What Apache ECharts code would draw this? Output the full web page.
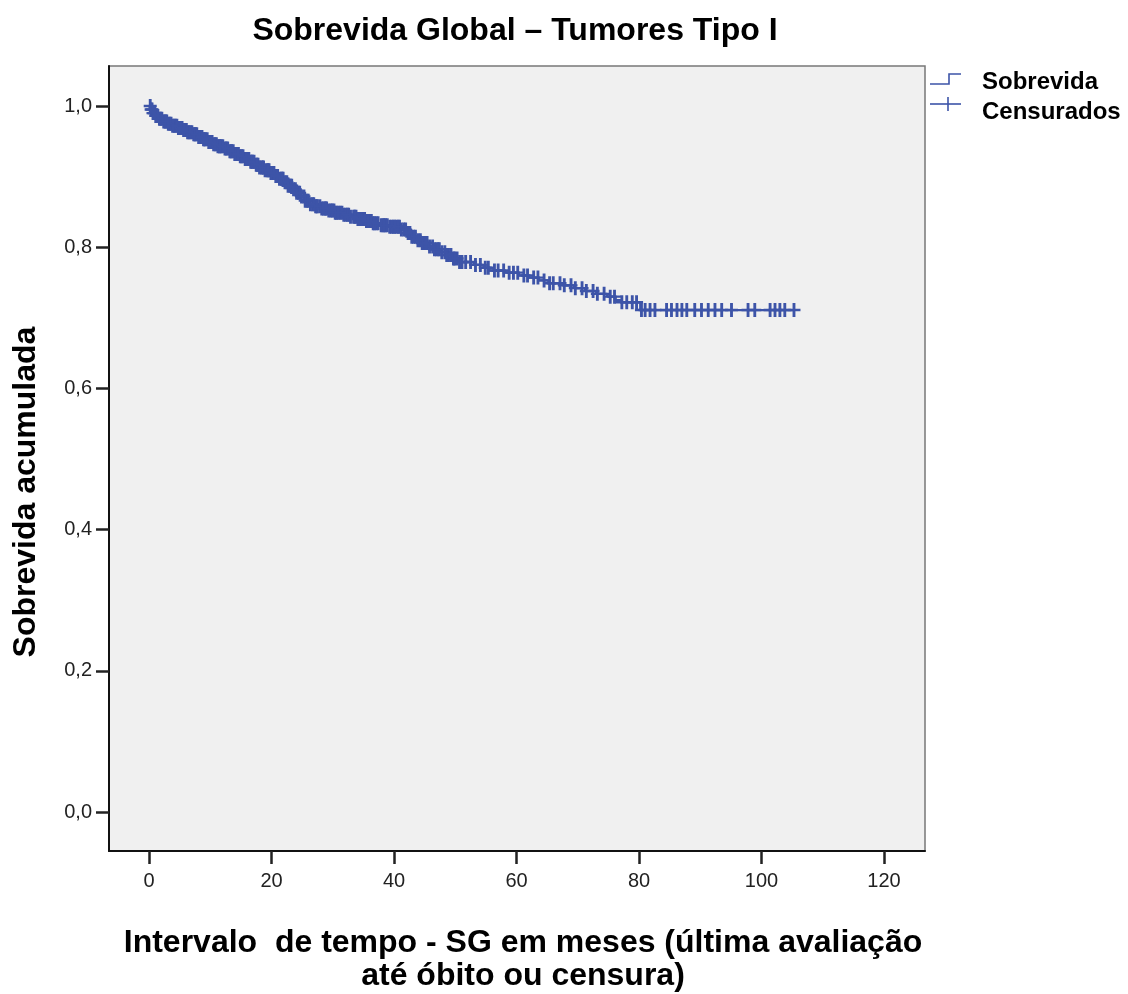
<!DOCTYPE html>
<html>
<head>
<meta charset="utf-8">
<script src="https://cdn.jsdelivr.net/npm/echarts@6/dist/echarts.min.js"></script>
<style>
  html, body { margin: 0; padding: 0; background: #fff; }
  #chart { width: 1128px; height: 994px; }
</style>
</head>
<body>
<div id="chart"></div>
<script>
// Kaplan-Meier steps: time of event (months) and survival after it
const eventTimes = [0, 0.3, 0.6, 1.0, 1.5, 2.2, 3.0, 3.8, 4.6, 5.5, 6.3, 7.1, 7.9, 8.7, 9.6, 10.4, 11.2, 12.1,
  13.0, 13.8, 14.7, 15.5, 16.4, 17.2, 18.0, 18.9, 19.7, 20.5, 21.3, 22.0, 22.7, 23.4, 24.1, 24.8, 25.5,
  26.2, 27.0, 28.0, 29.2, 30.4, 31.6, 32.8, 34.0, 35.3, 36.5, 37.7, 39.0, 41.2, 42.0, 42.8, 43.7, 44.6,
  45.6, 46.6, 47.6, 48.6, 49.6, 50.5, 53.0, 54.6, 55.6, 58.2, 60.4, 62.0, 63.6, 65.2, 67.5, 69.4, 71.2,
  73.0, 74.8, 76.2, 77.0, 80.2];
const survival = [1.000, 0.995, 0.990, 0.986, 0.982, 0.978, 0.975, 0.972, 0.969, 0.966, 0.963, 0.960, 0.956,
  0.953, 0.949, 0.946, 0.943, 0.940, 0.936, 0.932, 0.929, 0.925, 0.921, 0.917, 0.913, 0.909, 0.905, 0.901,
  0.897, 0.892, 0.887, 0.882, 0.877, 0.872, 0.866, 0.861, 0.858, 0.855, 0.852, 0.849, 0.846, 0.843, 0.840,
  0.837, 0.834, 0.831, 0.829, 0.825, 0.820, 0.815, 0.810, 0.806, 0.801, 0.797, 0.793, 0.789, 0.784, 0.779,
  0.775, 0.771, 0.767, 0.764, 0.760, 0.757, 0.753, 0.749, 0.746, 0.742, 0.738, 0.734, 0.730, 0.725, 0.722,
  0.711];
const lastFollowUp = 105.3;

// censored observations (months)
const censoredTimes = [0.2, 0.5, 0.8, 1.1, 1.3, 1.7, 1.9, 2.4, 2.6, 2.9, 3.4, 3.6, 4.1, 4.3, 4.8, 5.0, 5.4, 5.9,
  6.1, 6.5, 7.0, 7.3, 7.6, 8.1, 8.4, 8.9, 9.2, 9.5, 10.0, 10.3, 10.8, 11.0, 11.5, 11.8, 12.4, 12.6, 13.2,
  13.5, 14.0, 14.3, 14.9, 15.1, 15.7, 16.0, 16.6, 16.9, 17.5, 17.8, 18.4, 18.7, 19.3, 19.6, 20.2, 20.7, 21.0,
  21.6, 21.9, 22.5, 23.0, 23.3, 23.9, 24.4, 24.6, 25.3, 25.8, 26.0, 26.7, 27.2, 27.5, 28.2, 28.7, 29.0, 29.7,
  30.2, 30.6, 31.2, 31.8, 32.1, 32.6, 33.4, 33.8, 34.4, 35.0, 35.5, 35.9, 36.6, 37.1, 37.4, 38.2, 38.6, 39.3,
  39.9, 40.4, 40.9, 41.6, 42.3, 42.9, 43.5, 44.3, 44.9, 45.4, 46.3, 46.9, 47.4, 48.3, 48.9, 49.7, 50.3, 51.1,
  51.7, 52.5, 53.3, 54.1, 54.9, 55.4, 56.4, 57.0, 57.9, 58.8, 59.5, 60.2, 61.2, 61.8, 62.8, 63.5, 64.5, 65.4,
  66.0, 67.1, 67.8, 68.9, 69.6, 70.7, 71.4, 72.5, 73.2, 74.3, 75.3, 76.0, 77.2, 78.0, 78.9, 79.6,
  80.4, 81.0, 81.8, 82.6, 84.5, 85.3, 86.2, 87.0, 87.8, 89.1, 90.2, 91.3, 92.4, 93.5, 95.1, 97.8, 98.9,
  101.4, 102.2, 103.0, 103.8, 105.3];
const censoredTimesEarly = [0.35, 0.65, 0.95, 1.45, 2.1, 2.75, 3.15, 3.85, 4.55, 5.2, 5.65, 6.3, 6.75, 7.45,
  7.8, 8.25, 8.65, 9.05, 9.75, 10.15, 10.55, 11.25, 11.6, 12.05, 12.85, 13.35, 13.75, 14.15, 14.6, 15.35,
  15.85, 16.3, 16.75, 17.15, 17.65, 18.05, 18.55, 18.95, 19.45, 19.9, 20.4, 20.85, 21.3, 21.75, 22.2, 22.7,
  23.15, 23.6, 24.1, 24.9, 25.5, 26.35, 26.9, 27.35, 27.9, 28.45, 28.85, 29.35, 29.9, 30.4, 30.9, 31.5,
  32.4, 32.9, 33.6, 34.1, 34.7, 35.2, 35.7, 36.3, 36.8, 37.9, 38.4, 38.9, 39.6, 40.1, 40.7, 41.2, 41.9,
  42.6, 43.2, 43.9, 44.6, 45.2, 45.8, 46.6, 47.2, 47.8, 48.6, 49.3, 49.9, 50.7];

const xTicks = [0, 20, 40, 60, 80, 100, 120];
const yTicks = [0, 0.2, 0.4, 0.6, 0.8, 1.0];

const BLUE = '#3d54a8';
const FONT = '"Liberation Sans", Arial, sans-serif';

function survivalAt(t) {
  let s = 1;
  for (let i = 0; i < eventTimes.length; i++) {
    if (eventTimes[i] <= t) s = survival[i];
  }
  return s;
}

const stepData = eventTimes.map((t, i) => [t, survival[i]]);
stepData.push([lastFollowUp, survival[survival.length - 1]]);
const censorData = censoredTimes.concat(censoredTimesEarly).map(t => [t, survivalAt(t)]);

const plusIcon = 'path://M0,8.3 H20 V11.7 H0 Z M7.8,0 H12.2 V20 H7.8 Z';

const chart = echarts.init(document.getElementById('chart'));
chart.setOption({
  animation: false,
  backgroundColor: '#fff',
  grid: {
    left: 109, top: 66, width: 816, height: 785,
    show: true, backgroundColor: '#f0f0f0', borderColor: '#777', borderWidth: 1.5
  },
  xAxis: {
    type: 'value', min: -6.53, max: 126.69,
    splitLine: { show: false },
    axisLine: { show: true, onZero: false, lineStyle: { color: '#111', width: 2 } },
    axisTick: { show: true, customValues: xTicks, length: 13, lineStyle: { color: '#222', width: 2.5 } },
    axisLabel: { customValues: xTicks, margin: 20, fontSize: 20, color: '#222', fontFamily: FONT }
  },
  yAxis: {
    type: 'value', min: -0.0552, max: 1.0567,
    splitLine: { show: false },
    axisLine: { show: true, onZero: false, lineStyle: { color: '#111', width: 2 } },
    axisTick: { show: true, customValues: yTicks, length: 13, lineStyle: { color: '#222', width: 2.5 } },
    axisLabel: {
      customValues: yTicks, margin: 17, fontSize: 20, color: '#222', fontFamily: FONT,
      formatter: v => v.toFixed(1).replace('.', ',')
    }
  },
  series: [
    {
      name: 'Sobrevida', type: 'line', step: 'end', data: stepData,
      showSymbol: false, lineStyle: { color: BLUE, width: 2.2 }
    },
    {
      name: 'Censurados', type: 'scatter', data: censorData,
      symbol: plusIcon, symbolSize: [13, 14], itemStyle: { color: BLUE, opacity: 1 }
    }
  ],
  graphic: [
    { type: 'text', x: 515, y: 31, style: { text: 'Sobrevida Global – Tumores Tipo I', font: 'bold 32px ' + FONT, fill: '#000', align: 'center', verticalAlign: 'middle' } },
    { type: 'text', x: 26, y: 492, rotation: Math.PI / 2, style: { text: 'Sobrevida acumulada', font: 'bold 32px ' + FONT, fill: '#000', align: 'center', verticalAlign: 'middle' } },
    { type: 'text', x: 523, y: 943, style: { text: 'Intervalo  de tempo - SG em meses (última avaliação', font: 'bold 32px ' + FONT, fill: '#000', align: 'center', verticalAlign: 'middle' } },
    { type: 'text', x: 523, y: 976, style: { text: 'até óbito ou censura)', font: 'bold 32px ' + FONT, fill: '#000', align: 'center', verticalAlign: 'middle' } },
    // legend
    { type: 'polyline', shape: { points: [[930, 84], [949, 84], [949, 74], [961, 74]] }, style: { stroke: BLUE, lineWidth: 1.6, fill: null } },
    { type: 'line', shape: { x1: 930, y1: 104, x2: 961, y2: 104 }, style: { stroke: BLUE, lineWidth: 1.6 } },
    { type: 'line', shape: { x1: 948, y1: 97, x2: 948, y2: 111 }, style: { stroke: BLUE, lineWidth: 1.6 } },
    { type: 'text', x: 982, y: 82, style: { text: 'Sobrevida', font: 'bold 24px ' + FONT, fill: '#000', verticalAlign: 'middle' } },
    { type: 'text', x: 982, y: 112, style: { text: 'Censurados', font: 'bold 24px ' + FONT, fill: '#000', verticalAlign: 'middle' } }
  ]
});
</script>
</body>
</html>
